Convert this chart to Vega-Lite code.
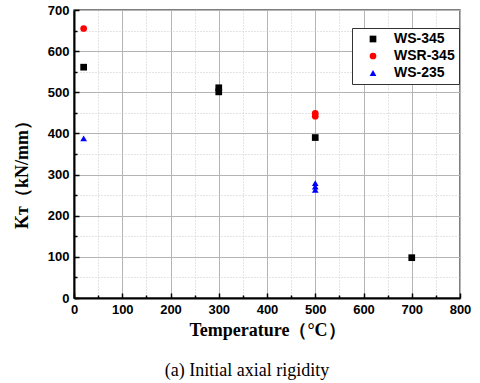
{
  "$schema": "https://vega.github.io/schema/vega-lite/v6.json",
  "width": 386,
  "height": 288,
  "autosize": {"type": "none"},
  "padding": {"left": 74, "top": 10, "right": 20, "bottom": 85},
  "background": "white",
  "title": {
    "text": "(a) Initial axial rigidity",
    "orient": "bottom",
    "anchor": "middle",
    "offset": 23,
    "font": "Liberation Serif",
    "fontSize": 18,
    "fontWeight": "normal",
    "color": "black",
    "dx": -20
  },
  "data": {
    "values": [
      {"series": "WS-345", "temp": 20, "kt": 561},
      {"series": "WS-345", "temp": 300, "kt": 511},
      {"series": "WS-345", "temp": 300, "kt": 501},
      {"series": "WS-345", "temp": 500, "kt": 390},
      {"series": "WS-345", "temp": 700, "kt": 98},
      {"series": "WSR-345", "temp": 20, "kt": 655},
      {"series": "WSR-345", "temp": 500, "kt": 449},
      {"series": "WSR-345", "temp": 500, "kt": 442},
      {"series": "WS-235", "temp": 20, "kt": 388},
      {"series": "WS-235", "temp": 500, "kt": 279},
      {"series": "WS-235", "temp": 500, "kt": 271},
      {"series": "WS-235", "temp": 500, "kt": 263}
    ]
  },
  "mark": {"type": "point", "filled": true, "opacity": 1},
  "encoding": {
    "x": {
      "field": "temp",
      "type": "quantitative",
      "scale": {"domain": [0, 800], "nice": false},
      "axis": {
        "title": "Temperature（°C）",
        "labelFlush": false,
        "values": [0, 50, 100, 150, 200, 250, 300, 350, 400, 450, 500, 550, 600, 650, 700, 750, 800],
        "labelExpr": "datum.value % 100 === 0 ? datum.label : ''",
        "gridDash": {"condition": {"test": "datum.value % 100 === 0", "value": []}, "value": [1, 2]},
        "gridColor": {"condition": {"test": "datum.value % 100 === 0", "value": "#b4b4b4"}, "value": "#c8c8c8"},
        "tickSize": {"condition": {"test": "datum.value % 100 === 0", "value": -5}, "value": -3}
      }
    },
    "y": {
      "field": "kt",
      "type": "quantitative",
      "scale": {"domain": [0, 700], "nice": false},
      "axis": {
        "title": "Kᴛ（kN/mm）",
        "labelFlush": false,
        "values": [0, 50, 100, 150, 200, 250, 300, 350, 400, 450, 500, 550, 600, 650, 700],
        "labelExpr": "datum.value % 100 === 0 ? datum.label : ''",
        "gridDash": {"condition": {"test": "datum.value % 100 === 0", "value": []}, "value": [1, 2]},
        "gridColor": {"condition": {"test": "datum.value % 100 === 0", "value": "#b4b4b4"}, "value": "#c8c8c8"},
        "tickSize": {"condition": {"test": "datum.value % 100 === 0", "value": -5}, "value": -3}
      }
    },
    "color": {
      "field": "series",
      "type": "nominal",
      "scale": {"domain": ["WS-345", "WSR-345", "WS-235"], "range": ["#000000", "#ff0000", "#0000ff"]},
      "legend": {"title": null}
    },
    "shape": {
      "field": "series",
      "type": "nominal",
      "scale": {"domain": ["WS-345", "WSR-345", "WS-235"], "range": ["square", "circle", "triangle-up"]},
      "legend": {"title": null}
    },
    "size": {
      "field": "series",
      "type": "nominal",
      "scale": {"domain": ["WS-345", "WSR-345", "WS-235"], "range": [45, 45, 70]},
      "legend": {"title": null}
    }
  },
  "config": {
    "view": {"stroke": "#555555", "strokeWidth": 1.5},
    "axis": {
      "domainColor": "#000000",
      "domainWidth": 2,
      "tickColor": "#000000",
      "tickWidth": 1.5,
      "gridWidth": 1,
      "labelFont": "Liberation Sans",
      "labelFontSize": 13,
      "labelFontWeight": "bold",
      "labelColor": "#000000",
      "labelPadding": 10,
      "titleFont": "Liberation Serif",
      "titleFontSize": 18,
      "titleFontWeight": "bold",
      "titleColor": "#000000"
    },
    "axisX": {"titlePadding": 5},
    "axisY": {"titlePadding": 16, "titleY": 160},
    "legend": {
      "orient": "none",
      "legendX": 278,
      "legendY": 18,
      "strokeColor": "#333333",
      "strokeWidth": 1,
      "fillColor": "white",
      "padding": 4,
      "labelFont": "Liberation Sans",
      "labelFontSize": 14,
      "labelFontWeight": "bold",
      "labelColor": "#000000",
      "symbolOffset": 10,
      "labelOffset": 14,
      "rowPadding": 3,
      "symbolStrokeWidth": 0
    }
  }
}
